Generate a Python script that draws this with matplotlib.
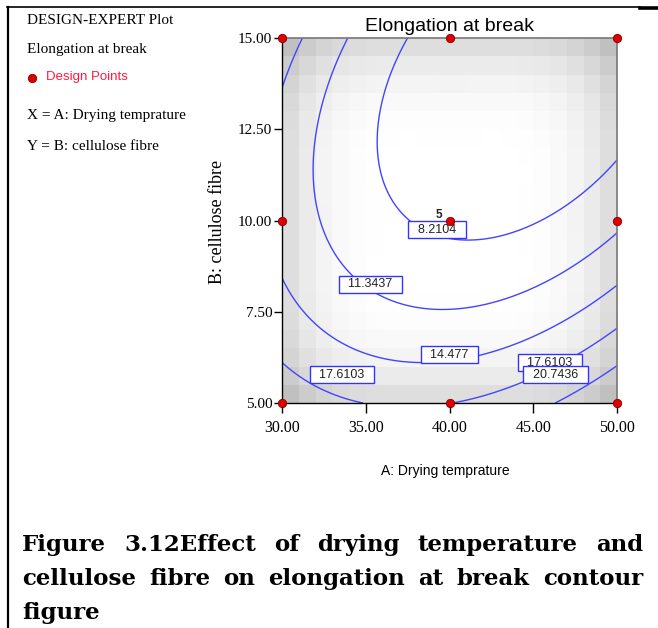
import numpy as np
import matplotlib
matplotlib.use("Agg")
import matplotlib.pyplot as plt
from matplotlib.lines import Line2D

# ---------------- data ----------------
A_range = [30.0, 50.0]
B_range = [5.0, 15.0]
design_A = [30, 40, 50, 30, 50, 30, 40, 50, 40]
design_B = [5, 5, 5, 10, 10, 15, 15, 15, 10]
design_reps = [1, 1, 1, 1, 1, 1, 1, 1, 5]
# fitted quadratic model in coded units: intercept, A, B, AB, A^2, B^2
coef = [7.63, -1.37, -5.44, -3.59, 4.45, 4.50]
levels = [8.2104, 11.3437, 14.477, 17.6103, 20.7436]
label_levels = [8.2104, 11.3437, 14.477, 17.6103, 17.6103, 20.7436]
label_A = [39.25, 35.28, 40.0, 33.58, 46.0, 46.33]
label_B = [9.75, 8.26, 6.32, 5.77, 6.10, 5.77]
xticks = [30.0, 35.0, 40.0, 45.0, 50.0]
yticks = [5.0, 7.5, 10.0, 12.5, 15.0]

W, H = 658, 628
fig = plt.figure(figsize=(W / 100, H / 100), dpi=100)
fig.patch.set_facecolor("white")

def fx(px):
    return px / W

def fy(py):
    return 1 - py / H

ax = fig.add_axes([fx(282), fy(403), fx(617) - fx(282), fy(38) - fy(403)])

def coded(A, B):
    return (np.asarray(A) - 40.0) / 10.0, (np.asarray(B) - 10.0) / 5.0

def model(A, B):
    a, b = coded(A, B)
    return coef[0] + coef[1] * a + coef[2] * b + coef[3] * a * b + coef[4] * a ** 2 + coef[5] * b ** 2

def terms(a, b):
    return np.stack([np.ones_like(a), a, b, a * b, a ** 2, b ** 2], axis=-1)

# background: prediction variance of the design (blocky shading)
da, db = coded(np.repeat(design_A, design_reps), np.repeat(design_B, design_reps))
X = terms(np.asarray(da, float), np.asarray(db, float))
Minv = np.linalg.inv(X.T @ X)
nb = 20
ea = np.linspace(30, 50, nb + 1)
eb = np.linspace(5, 15, nb + 1)
ca = (ea[:-1] + ea[1:]) / 2
cb = (eb[:-1] + eb[1:]) / 2
CA, CB = np.meshgrid(ca, cb)
a_, b_ = coded(CA, CB)
T = terms(a_, b_)
var = np.einsum("...i,ij,...j->...", T, Minv, T)
gray = np.clip(1 - 0.5 * (var - var.min()), 0, 1)
ax.pcolormesh(ea, eb, gray, cmap="gray", vmin=0, vmax=1, shading="flat", zorder=0)

# contours
gA = np.linspace(30, 50, 301)
gB = np.linspace(5, 15, 301)
GA, GB = np.meshgrid(gA, gB)
Z = model(GA, GB)
ax.contour(GA, GB, Z, levels=levels, colors="#4444ff", linewidths=1.0, zorder=2)

for lv, la, lb in zip(label_levels, label_A, label_B):
    ax.text(la, lb, f"  {lv:g}  ", ha="center", va="center", fontsize=9,
            family="Liberation Sans", color="#222222", zorder=4,
            bbox=dict(boxstyle="square,pad=0.2", fc="white", ec="#3333ff", lw=1.0))

# design points
ax.plot(design_A, design_B, "o", color="#e00000", mec="#800000", mew=0.6,
        ms=6, clip_on=False, zorder=6, ls="none")
for A_, B_, r in zip(design_A, design_B, design_reps):
    if r > 1:
        ax.text(A_ - 0.45, B_ + 0.0, str(r), ha="right", va="bottom", fontsize=8.5,
                family="Liberation Sans", fontweight="bold", color="#222222", zorder=6)

ax.set_xlim(*A_range)
ax.set_ylim(*B_range)
ax.set_xticks(xticks)
ax.set_yticks(yticks)
ax.set_xticklabels([f"{t:.2f}" for t in xticks], family="Liberation Serif", fontsize=11.5)
ax.set_yticklabels([f"{t:.2f}" for t in yticks], family="Liberation Serif", fontsize=11)
ax.tick_params(axis="x", length=7, pad=5, width=1)
ax.tick_params(axis="y", length=6, pad=1, width=1)
for s in ["left", "bottom"]:
    ax.spines[s].set_color("black")
    ax.spines[s].set_linewidth(1.0)
for s in ["top", "right"]:
    ax.spines[s].set_color("#777777")
    ax.spines[s].set_linewidth(1.2)

ax.set_title("Elongation at break", family="Liberation Sans", fontsize=14, pad=5)

fig.text(fx(218), fy(222), "B: cellulose fibre", rotation=90, ha="center", va="center",
         family="Liberation Serif", fontsize=13)
fig.text(fx(445), fy(471), "A: Drying temprature", ha="center", va="center",
         family="Liberation Sans", fontsize=10)

# left info panel
fig.text(fx(27), fy(24), "DESIGN-EXPERT Plot", family="Liberation Serif", fontsize=11, va="baseline")
fig.text(fx(27), fy(53), "Elongation at break", family="Liberation Serif", fontsize=11, va="baseline")
fig.add_artist(Line2D([fx(32)], [fy(78)], marker="o", ms=6, color="#e00000", mec="#800000", mew=0.6))
fig.text(fx(46), fy(80), "Design Points", family="Liberation Sans", fontsize=9.5, color="#ff1a40", va="baseline")
fig.text(fx(27), fy(119), "X = A: Drying temprature", family="Liberation Serif", fontsize=11, va="baseline")
fig.text(fx(27), fy(150), "Y = B: cellulose fibre", family="Liberation Serif", fontsize=11, va="baseline")

# frame lines
fig.add_artist(Line2D([fx(7.5), fx(7.5)], [fy(6.5), fy(H)], color="black", lw=1.6))
fig.add_artist(Line2D([fx(7), fx(640)], [fy(7), fy(7)], color="black", lw=1.2))
fig.add_artist(Line2D([fx(640), fx(658)], [fy(7.5), fy(7.5)], color="black", lw=2.6))

# justified caption
fig.canvas.draw()
r = fig.canvas.get_renderer()
cap_kw = dict(family="DejaVu Serif", fontweight="bold", fontsize=16.5, va="baseline", color="black")

def justify(words, ybase, x0, x1, just=True):
    ts = [fig.text(0, fy(ybase), w, **cap_kw) for w in words]
    widths = [t.get_window_extent(r).width for t in ts]
    if just and len(words) > 1:
        gap = (x1 - x0 - sum(widths)) / (len(words) - 1)
    else:
        gap = 6
    x = x0
    for t, w in zip(ts, widths):
        t.set_x(fx(x))
        x += w + gap

justify(["Figure", "3.12Effect", "of", "drying", "temperature", "and"], 551, 22, 643)
justify(["cellulose", "fibre", "on", "elongation", "at", "break", "contour"], 585, 22, 643)
justify(["figure"], 619, 22, 643, just=False)

fig.savefig("out.png", dpi=100)
